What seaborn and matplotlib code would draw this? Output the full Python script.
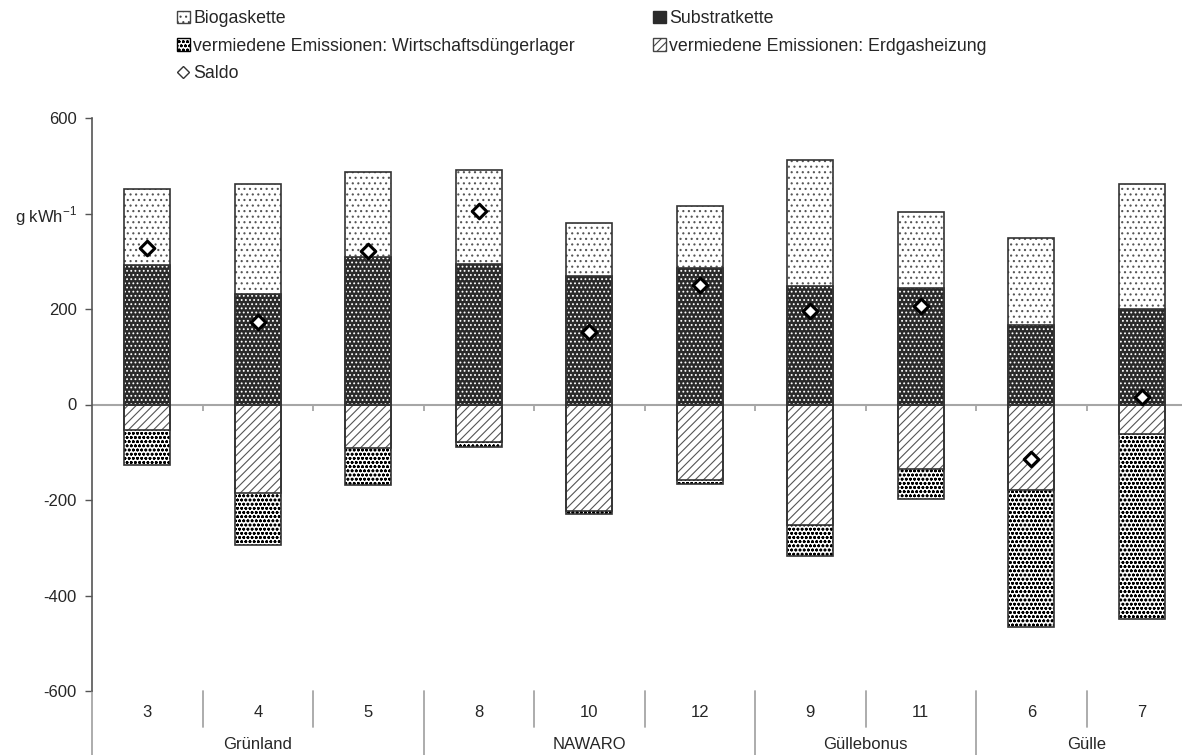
import numpy as np
import matplotlib.pyplot as plt
import seaborn as sns
from matplotlib.patches import Patch
from matplotlib.lines import Line2D

# values (g kWh-1)
cats = ["3", "4", "5", "8", "10", "12", "9", "11", "6", "7"]
groups = ["Grünland", "NAWARO", "Güllebonus", "Gülle"]
group_size = [3, 3, 2, 2]
substrat = [292, 231, 308, 294, 269, 285, 248, 245, 166, 199]
biogas = [159, 231, 179, 197, 111, 130, 264, 158, 182, 263]
erdgas = [-53, -185, -92, -78, -222, -159, -252, -136, -180, -61]
duenger = [-73, -109, -76, -12, -7, -7, -65, -61, -286, -388]
saldo = [327, 172, 321, 405, 151, 250, 195, 206, -115, 15]

sns.set_style("white")
plt.rcParams["font.family"] = ["Liberation Sans", "DejaVu Sans"]
plt.rcParams["hatch.linewidth"] = 0.8

fig = plt.figure(figsize=(11.82, 7.55), dpi=100)
ax = fig.add_axes([92 / 1182, 64 / 755, 1105 / 1182, 573 / 755])

pos_total = np.array(substrat) + np.array(biogas)
neg_total = np.array(erdgas) + np.array(duenger)
edge = "#333333"
w = 0.42

# each layer: (heights, face, hatch, hatch colour)
layers = [
    (pos_total, "white", "...", "#555555"),     # Biogaskette
    (substrat, "#2a2a2a", "....", "white"),     # Substratkette
    (neg_total, "white", "oooo", "black"),       # Wirtschaftsdüngerlager
    (erdgas, "white", "////", "#555555"),        # Erdgasheizung
]
for vals, face, hatch, hcol in layers:
    n0 = len(ax.patches)
    sns.barplot(x=cats, y=vals, order=cats, width=w, errorbar=None, ax=ax)
    for p in ax.patches[n0:]:
        p.set_facecolor(face)
        p.set_hatch(hatch)
        p.set_edgecolor(hcol)
        p.set_linewidth(0)
        p.set_zorder(2)
    # outline pass
    n0 = len(ax.patches)
    sns.barplot(x=cats, y=vals, order=cats, width=w, errorbar=None, ax=ax)
    for p in ax.patches[n0:]:
        p.set_facecolor("none")
        p.set_edgecolor(edge)
        p.set_linewidth(1.2)
        p.set_zorder(2.5)

sns.scatterplot(x=cats, y=saldo, marker="D", s=55, color="white",
                edgecolor="black", linewidth=2.2, zorder=5, ax=ax, legend=False)

ax.axhline(0, color="#a6a6a6", lw=1.5, zorder=1)
ax.vlines(np.arange(0.5, len(cats) - 0.5), -13, 0, color="#a6a6a6", lw=1.3, zorder=1)

ax.set_xlim(-0.5, len(cats) - 0.5)
ax.set_ylim(-600, 600)
ax.set_yticks([-600, -400, -200, 0, 200, 400, 600])
ax.set_yticklabels(["-600", "-400", "-200", "0", "200", "g kWh$^{\\mathregular{-1}}$", "600"])
ax.tick_params(axis="y", left=True, length=5, width=1, color="#555555",
               labelsize=12, pad=6, direction="out")
ax.set_xticks([])
ax.set_xlabel("")
for s in ["top", "right", "bottom"]:
    ax.spines[s].set_visible(False)
ax.spines["left"].set_color("#555555")
ax.spines["left"].set_linewidth(1.2)

# two level category axis below
trans = ax.get_xaxis_transform()
for i, c in enumerate(cats):
    ax.text(i, -0.038, c, transform=trans, ha="center", va="center", fontsize=12)
bounds = np.cumsum([0] + group_size) - 0.5
start = 0
for g, n in zip(groups, group_size):
    ax.text(start + (n - 1) / 2, -0.094, g, transform=trans, ha="center",
            va="center", fontsize=12)
    start += n
for b in np.arange(-0.5, len(cats)):
    length = -0.13 if b in bounds else -0.063
    ax.plot([b, b], [0, length], transform=trans, color="#a6a6a6", lw=1.3,
            clip_on=False)

handles = [
    Patch(facecolor="white", edgecolor="#444444", hatch="...", label="Biogaskette"),
    Patch(facecolor="white", edgecolor="black", hatch="oooo",
          label="vermiedene Emissionen: Wirtschaftsdüngerlager"),
    Line2D([], [], marker="D", ls="none", markerfacecolor="white",
           markeredgecolor="#333333", markersize=6, label="Saldo"),
    Patch(facecolor="#2a2a2a", edgecolor="#2a2a2a", label="Substratkette"),
    Patch(facecolor="white", edgecolor="#444444", hatch="////",
          label="vermiedene Emissionen: Erdgasheizung"),
]
fig.legend(handles=handles, ncol=2, loc="upper left",
           bbox_to_anchor=(170 / 1182, 1 - 3 / 755), frameon=False,
           fontsize=12.8, handlelength=0.7, handleheight=0.7,
           handletextpad=0.2, labelspacing=0.6, columnspacing=4.4,
           borderaxespad=0)

fig.savefig("out.png", dpi=100)
